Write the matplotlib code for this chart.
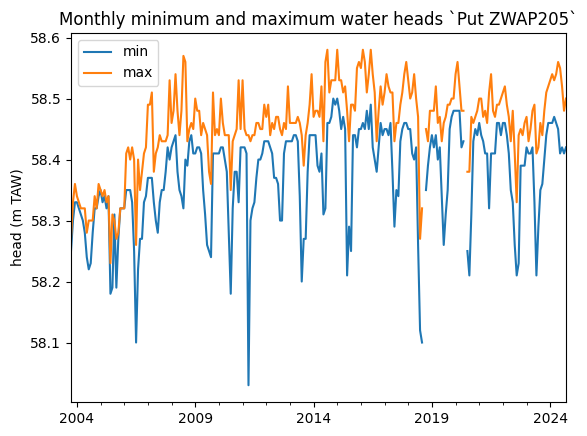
import numpy as np
import pandas as pd
import matplotlib
matplotlib.use('Agg')
import matplotlib.pyplot as plt

# Niveles mensuales (m TAW), de oct 2003 a sep 2024, una fila por año calendario.
nan = np.nan

h_min = [
    58.25, 58.30, 58.33,
    58.33, 58.32, 58.31, 58.30, 58.28, 58.24, 58.22, 58.23, 58.28, 58.32, 58.32, 58.34,
    58.35, 58.33, 58.34, 58.32, 58.34, 58.18, 58.19, 58.31, 58.19, 58.27, 58.32, 58.32,
    58.32, 58.35, 58.35, 58.35, 58.33, 58.25, 58.10, 58.22, 58.27, 58.27, 58.33, 58.34,
    58.37, 58.37, 58.37, 58.33, 58.30, 58.28, 58.33, 58.35, 58.35, 58.38, 58.42, 58.40,
    58.42, 58.43, 58.44, 58.38, 58.35, 58.34, 58.32, 58.40, 58.39, 58.43, 58.44, 58.41,
    58.41, 58.42, 58.42, 58.41, 58.35, 58.31, 58.26, 58.25, 58.24, 58.41, 58.41, 58.41,
    58.41, 58.42, 58.42, 58.40, 58.38, 58.28, 58.18, 58.32, 58.38, 58.38, 58.33, 58.42,
    58.42, 58.42, 58.41, 58.03, 58.30, 58.32, 58.33, 58.37, 58.40, 58.40, 58.41, 58.43,
    58.43, 58.43, 58.42, 58.41, 58.37, 58.37, 58.36, 58.30, 58.30, 58.41, 58.43, 58.43,
    58.43, 58.43, 58.44, 58.44, 58.43, 58.34, 58.20, 58.27, 58.27, 58.38, 58.44, 58.44,
    58.44, 58.44, 58.39, 58.38, 58.41, 58.31, 58.32, 58.46, 58.46, 58.47, 58.50, 58.49,
    58.50, 58.48, 58.45, 58.47, 58.45, 58.21, 58.29, 58.25, 58.44, 58.44, 58.42, 58.45,
    58.45, 58.46, 58.45, 58.48, 58.45, 58.49, 58.42, 58.40, 58.38, 58.42, 58.46, 58.44,
    58.45, 58.45, 58.44, 58.46, 58.38, 58.29, 58.35, 58.34, 58.43, 58.45, 58.46, 58.46,
    58.45, 58.45, 58.41, 58.40, 58.42, 58.26, 58.12, 58.10, nan, 58.35, 58.39, 58.42,
    58.44, 58.42, 58.44, 58.40, 58.42, 58.34, 58.26, 58.31, 58.35, 58.45, 58.47, 58.48,
    58.48, 58.48, 58.48, 58.42, 58.43, nan, 58.25, 58.21, 58.31, 58.43, 58.45, 58.44,
    58.46, 58.44, 58.43, 58.41, 58.41, 58.32, 58.41, 58.41, 58.41, 58.46, 58.46, 58.44,
    58.46, 58.46, 58.44, 58.41, 58.35, 58.33, 58.26, 58.21, 58.23, 58.39, 58.39, 58.39,
    58.42, 58.41, 58.41, 58.42, 58.33, 58.21, 58.29, 58.35, 58.36, 58.40, 58.44, 58.46,
    58.46, 58.46, 58.47, 58.46, 58.45, 58.41, 58.42, 58.41, 58.42,
]

h_max = [
    58.27, 58.33, 58.36,
    58.34, 58.33, 58.32, 58.32, 58.32, 58.28, 58.30, 58.30, 58.30, 58.34, 58.32, 58.36,
    58.35, 58.34, 58.35, 58.33, 58.34, 58.23, 58.31, 58.30, 58.27, 58.28, 58.32, 58.32,
    58.32, 58.41, 58.42, 58.40, 58.42, 58.40, 58.26, 58.40, 58.35, 58.38, 58.41, 58.42,
    58.49, 58.49, 58.51, 58.38, 58.41, 58.42, 58.44, 58.43, 58.43, 58.43, 58.44, 58.53,
    58.46, 58.48, 58.54, 58.48, 58.44, 58.48, 58.57, 58.56, 58.43, 58.45, 58.46, 58.45,
    58.50, 58.48, 58.48, 58.44, 58.46, 58.45, 58.44, 58.38, 58.36, 58.51, 58.44, 58.45,
    58.44, 58.50, 58.46, 58.44, 58.44, 58.44, 58.35, 58.43, 58.44, 58.45, 58.53, 58.45,
    58.53, 58.45, 58.44, 58.44, 58.43, 58.44, 58.44, 58.46, 58.46, 58.45, 58.45, 58.49,
    58.47, 58.49, 58.44, 58.46, 58.45, 58.47, 58.47, 58.45, 58.44, 58.46, 58.45, 58.52,
    58.46, 58.46, 58.46, 58.46, 58.47, 58.46, 58.44, 58.39, 58.44, 58.46, 58.49, 58.54,
    58.47, 58.48, 58.48, 58.47, 58.52, 58.43, 58.56, 58.58, 58.51, 58.53, 58.53, 58.53,
    58.58, 58.53, 58.53, 58.51, 58.52, 58.48, 58.43, 58.49, 58.49, 58.48, 58.55, 58.56,
    58.55, 58.58, 58.56, 58.51, 58.54, 58.58, 58.54, 58.51, 58.43, 58.48, 58.52, 58.49,
    58.51, 58.54, 58.52, 58.51, 58.51, 58.43, 58.46, 58.46, 58.49, 58.51, 58.54, 58.56,
    58.53, 58.50, 58.51, 58.54, 58.50, 58.47, 58.27, 58.32, nan, 58.45, 58.43, 58.48,
    58.48, 58.48, 58.52, 58.46, 58.47, 58.43, 58.46, 58.47, 58.49, 58.49, 58.50, 58.50,
    58.54, 58.56, 58.52, 58.48, 58.48, nan, 58.38, 58.38, 58.47, 58.46, 58.47, 58.48,
    58.50, 58.50, 58.47, 58.48, 58.46, 58.51, 58.54, 58.48, 58.47, 58.49, 58.49, 58.50,
    58.51, 58.52, 58.49, 58.47, 58.43, 58.48, 58.41, 58.33, 58.44, 58.45, 58.44, 58.46,
    58.47, 58.43, 58.45, 58.48, 58.49, 58.41, 58.42, 58.46, 58.44, 58.48, 58.51, 58.52,
    58.53, 58.54, 58.53, 58.54, 58.56, 58.55, 58.52, 58.48, 58.50,
]

meses = pd.period_range('2003-10', periods=len(h_min), freq='M')
df = pd.DataFrame({'min': h_min, 'max': h_max}, index=meses)

fig = plt.figure(figsize=(5.87, 4.36), dpi=100)
ax = fig.add_axes([71 / 587, 34 / 436, 495 / 587, 369 / 436])
df.plot(ax=ax)
ax.set_title('Monthly minimum and maximum water heads `Put ZWAP205`')
ax.set_ylabel('head (m TAW)')
ax.legend(loc='upper left')

fig.savefig('out.png', dpi=100)
